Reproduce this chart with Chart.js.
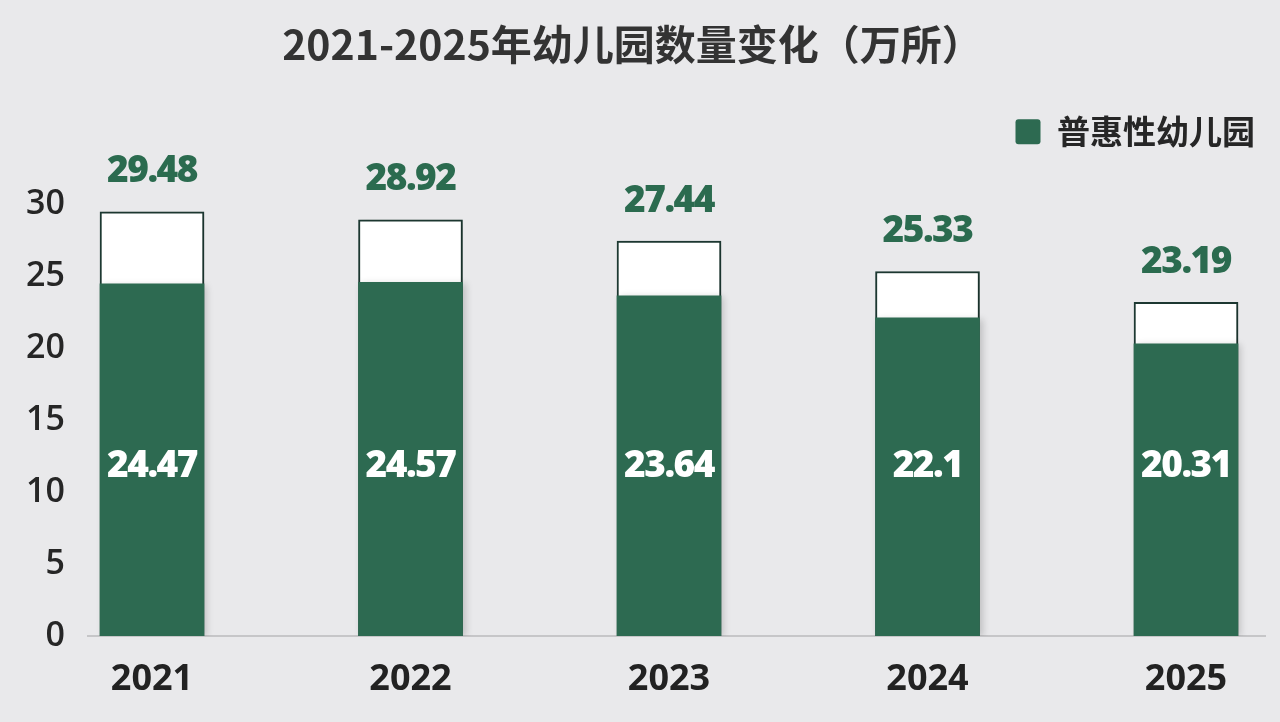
<!DOCTYPE html>
<html>
<head>
<meta charset="utf-8">
<script src="https://cdn.jsdelivr.net/npm/chart.js@4.4.0/dist/chart.umd.min.js"></script>
<style>
  html, body { margin: 0; padding: 0; background: #e9e9eb; }
  #wrap { width: 1280px; height: 722px; }
</style>
</head>
<body>
<div id="wrap"><canvas id="c" width="1280" height="722"></canvas></div>
<script>
// ---- data ----
const years = ['2021', '2022', '2023', '2024', '2025'];
const totalKindergartens = [29.48, 28.92, 27.44, 25.33, 23.19];
const inclusiveKindergartens = [24.47, 24.57, 23.64, 22.1, 20.31];
const yTickValues = [0, 5, 10, 15, 20, 25, 30];
const titleText = '2021-2025年幼儿园数量变化（万所）';
const legendText = '普惠性幼儿园';

const GREEN = '#2d6a51';
const LABEL_GREEN = '#2b6b4f';
const NUM_FONT = '"Open Sans", "Noto Sans", sans-serif';
const CJK_FONT = '"Noto Sans CJK SC", "Noto Sans", sans-serif';

const bgPlugin = {
  id: 'bg',
  beforeDraw(chart) {
    const { ctx, width, height } = chart;
    ctx.save();
    ctx.fillStyle = '#e9e9eb';
    ctx.fillRect(0, 0, width, height);
    ctx.restore();
  }
};

const shadowPlugin = {
  id: 'shadow',
  beforeDatasetDraw(chart) {
    const ctx = chart.ctx;
    ctx.save();
    ctx.shadowColor = 'rgba(0,0,0,0.18)';
    ctx.shadowBlur = 7;
    ctx.shadowOffsetX = 3;
    ctx.shadowOffsetY = 1;
  },
  afterDatasetDraw(chart) {
    chart.ctx.restore();
  }
};

const labelPlugin = {
  id: 'valueLabels',
  afterDatasetsDraw(chart) {
    const { ctx } = chart;
    const yScale = chart.scales.y;
    ctx.save();
    ctx.textAlign = 'center';
    ctx.textBaseline = 'middle';
    ctx.letterSpacing = '-1.5px';
    // totals above bars
    const metaTotal = chart.getDatasetMeta(1);
    ctx.font = '800 37px ' + NUM_FONT;
    ctx.fillStyle = LABEL_GREEN;
    metaTotal.data.forEach((el, i) => {
      ctx.fillText(String(totalKindergartens[i]), el.x, el.y - 40);
    });
    // inclusive values inside green bars
    const metaIn = chart.getDatasetMeta(0);
    ctx.fillStyle = '#ffffff';
    const yLab = yScale.getPixelForValue(11.8);
    metaIn.data.forEach((el, i) => {
      ctx.fillText(String(inclusiveKindergartens[i]), el.x, yLab);
    });
    ctx.restore();
  }
};

new Chart(document.getElementById('c'), {
  type: 'bar',
  data: {
    datasets: [
      {
        label: legendText,
        data: inclusiveKindergartens.map((v, i) => ({ x: i, y: v })),
        backgroundColor: GREEN,
        borderWidth: 0,
        barThickness: 104,
        grouped: false,
        order: 0
      },
      {
        label: '幼儿园总数',
        data: totalKindergartens.map((v, i) => ({ x: i, y: v })),
        backgroundColor: '#ffffff',
        borderColor: '#1e3a33',
        borderWidth: 2,
        borderSkipped: false,
        barThickness: 104,
        grouped: false,
        order: 1
      }
    ]
  },
  options: {
    responsive: false,
    animation: false,
    devicePixelRatio: 1,
    layout: { padding: { left: 0, right: 15, top: 0, bottom: 0 } },
    plugins: {
      tooltip: { enabled: false },
      title: {
        display: true,
        text: titleText,
        color: '#333333',
        font: { family: CJK_FONT, size: 41, weight: 'bold' },
        padding: { top: 20, bottom: 36 }
      },
      legend: {
        display: true,
        position: 'top',
        align: 'end',
        labels: {
          filter: item => item.datasetIndex === 0,
          color: '#262626',
          font: { family: CJK_FONT, size: 33, weight: 'bold' },
          boxWidth: 25,
          boxHeight: 25,
          useBorderRadius: true,
          borderRadius: 3,
          padding: 10
        }
      }
    },
    scales: {
      x: {
        type: 'linear',
        offset: false,
        bounds: 'data',
        min: -0.2476,
        max: 4.3056,
        grid: { display: false, drawTicks: false },
        border: { display: true, color: '#c6c6c8', width: 2 },
        afterBuildTicks: axis => { axis.ticks = years.map((y, i) => ({ value: i })); },
        afterFit: scale => { scale.height = 86; },
        ticks: {
          autoSkip: false,
          maxRotation: 0,
          padding: 22,
          color: '#222222',
          font: { family: NUM_FONT, size: 36, weight: 'bold' },
          callback: v => years[v]
        }
      },
      y: {
        bounds: 'data',
        min: 0,
        max: 33.2,
        grid: { display: false, drawTicks: false },
        border: { display: false },
        afterBuildTicks: axis => { axis.ticks = yTickValues.map(v => ({ value: v })); },
        afterFit: scale => { scale.width = 88; },
        ticks: {
          padding: 23,
          color: '#262626',
          font: { family: NUM_FONT, size: 34, weight: '600' },
          callback: v => String(v)
        }
      }
    }
  },
  plugins: [bgPlugin, shadowPlugin, labelPlugin]
});
</script>
</body>
</html>
